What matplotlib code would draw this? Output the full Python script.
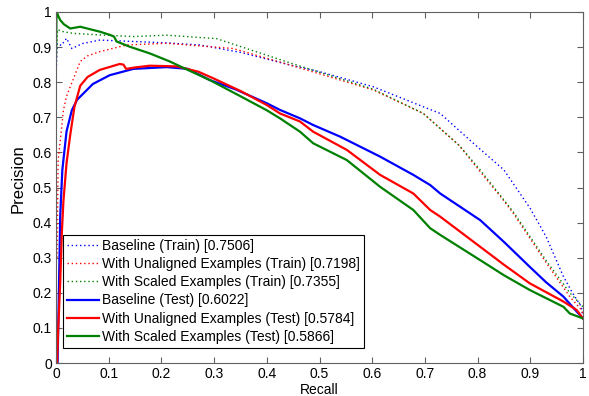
import matplotlib
matplotlib.use('Agg')
import matplotlib.pyplot as plt

# Precision-recall curves
base_train_r = [0.0, 0.002, 0.01, 0.02, 0.03, 0.05, 0.083, 0.147, 0.21, 0.273, 0.35, 0.444, 0.5,
                0.602, 0.697, 0.729, 0.792, 0.85, 0.9, 0.93, 0.963, 0.98, 0.997, 1.0]
base_train_p = [0.80, 0.91, 0.905, 0.925, 0.896, 0.91, 0.92, 0.916, 0.912, 0.906, 0.885, 0.849, 0.83,
                0.787, 0.730, 0.711, 0.626, 0.55, 0.44, 0.36, 0.246, 0.20, 0.16, 0.13]

unal_train_r = [0.002, 0.004, 0.01, 0.014, 0.02, 0.027, 0.046, 0.06, 0.083, 0.134, 0.21, 0.336, 0.444,
                0.602, 0.697, 0.765, 0.805, 0.849, 0.868, 0.931, 0.975, 0.997, 1.0]
unal_train_p = [0.30, 0.578, 0.66, 0.72, 0.76, 0.787, 0.859, 0.875, 0.887, 0.906, 0.911, 0.896, 0.849,
                0.778, 0.711, 0.62, 0.545, 0.464, 0.426, 0.284, 0.189, 0.151, 0.14]

scal_train_r = [0.0, 0.003, 0.01, 0.033, 0.08, 0.147, 0.21, 0.305, 0.444, 0.602, 0.697, 0.765, 0.805,
                0.868, 0.931, 0.975, 1.0]
scal_train_p = [0.87, 0.95, 0.945, 0.939, 0.935, 0.93, 0.934, 0.924, 0.855, 0.78, 0.711, 0.62, 0.55,
                0.43, 0.29, 0.20, 0.16]

base_test_r = [0.003, 0.006, 0.008, 0.012, 0.02, 0.03, 0.04, 0.052, 0.07, 0.102, 0.147, 0.21, 0.25,
               0.292, 0.34, 0.40, 0.425, 0.463, 0.488, 0.539, 0.615, 0.678, 0.71, 0.729, 0.805, 0.85,
               0.899, 0.93, 0.963, 0.98, 1.0]
base_test_p = [0.0, 0.25, 0.42, 0.55, 0.66, 0.72, 0.75, 0.768, 0.795, 0.82, 0.838, 0.843, 0.838,
               0.806, 0.78, 0.74, 0.721, 0.697, 0.678, 0.645, 0.588, 0.536, 0.507, 0.483, 0.407, 0.345,
               0.274, 0.23, 0.189, 0.16, 0.127]

unal_test_r = [0.002, 0.004, 0.008, 0.011, 0.014, 0.02, 0.027, 0.035, 0.046, 0.06, 0.083, 0.121, 0.128,
               0.133, 0.15, 0.178, 0.229, 0.27, 0.3, 0.35, 0.40, 0.425, 0.463, 0.488, 0.552, 0.615,
               0.678, 0.71, 0.729, 0.805, 0.85, 0.899, 0.963, 0.988, 1.0]
unal_test_p = [0.0, 0.09, 0.23, 0.37, 0.46, 0.57, 0.65, 0.73, 0.79, 0.815, 0.835, 0.852, 0.85,
               0.838, 0.842, 0.847, 0.845, 0.83, 0.81, 0.775, 0.735, 0.711, 0.688, 0.659, 0.607, 0.536,
               0.483, 0.436, 0.417, 0.331, 0.28, 0.227, 0.175, 0.151, 0.127]

scal_test_r = [0.0, 0.001, 0.004, 0.008, 0.015, 0.027, 0.046, 0.083, 0.102, 0.11, 0.115, 0.14, 0.178,
               0.216, 0.25, 0.292, 0.35, 0.40, 0.425, 0.463, 0.488, 0.552, 0.615, 0.678, 0.71, 0.729,
               0.805, 0.85, 0.899, 0.963, 0.975, 1.0]
scal_test_p = [0.87, 1.0, 0.99, 0.977, 0.965, 0.953, 0.958, 0.944, 0.935, 0.93, 0.916, 0.901, 0.882,
               0.859, 0.835, 0.806, 0.76, 0.72, 0.697, 0.659, 0.626, 0.578, 0.502, 0.436, 0.384, 0.365,
               0.293, 0.25, 0.208, 0.16, 0.141, 0.127]

labels = ['Baseline (Train) [0.7506]',
          'With Unaligned Examples (Train) [0.7198]',
          'With Scaled Examples (Train) [0.7355]',
          'Baseline (Test) [0.6022]',
          'With Unaligned Examples (Test) [0.5784]',
          'With Scaled Examples (Test) [0.5866]']

ticks = [0, 0.1, 0.2, 0.3, 0.4, 0.5, 0.6, 0.7, 0.8, 0.9, 1]
tick_labels = ['0', '0.1', '0.2', '0.3', '0.4', '0.5', '0.6', '0.7', '0.8', '0.9', '1']

plt.rcParams['font.family'] = ['Liberation Sans', 'DejaVu Sans']

fig = plt.figure(figsize=(5.89, 3.96), dpi=100)
ax = fig.add_axes([0.0951, 0.0833, 0.8947, 0.8864])

dot = (0, (1, 2))
ax.plot(base_train_r, base_train_p, color='#0000ff', lw=1, ls=dot, label=labels[0])
ax.plot(unal_train_r, unal_train_p, color='#ff0000', lw=1, ls=dot, label=labels[1])
ax.plot(scal_train_r, scal_train_p, color='#008000', lw=1, ls=dot, label=labels[2])
ax.plot(base_test_r, base_test_p, color='#0000ff', lw=1.6, label=labels[3])
ax.plot(unal_test_r, unal_test_p, color='#ff0000', lw=1.6, label=labels[4])
ax.plot(scal_test_r, scal_test_p, color='#008000', lw=1.6, label=labels[5])

ax.set_xlim(0, 1)
ax.set_ylim(0, 1)
ax.set_xticks(ticks)
ax.set_xticklabels(tick_labels)
ax.set_yticks(ticks)
ax.set_yticklabels(tick_labels)
ax.tick_params(direction='in', length=4, width=0.8, color='#606060', labelsize=10,
               top=True, right=True, pad=3)
for s in ax.spines.values():
    s.set_color('#606060')
    s.set_linewidth(0.8)

ax.set_xlabel('Recall', fontsize=10, labelpad=1)
ax.set_ylabel('Precision', fontsize=12)
ax.yaxis.set_label_coords(-0.057, 0.526)

leg = ax.legend(loc='lower left', bbox_to_anchor=(0.0133, 0.043), fontsize=10,
                fancybox=False, framealpha=1, edgecolor='black', borderpad=0.3,
                labelspacing=0.3, handlelength=2.3, handletextpad=0.2, borderaxespad=0)
leg.get_frame().set_linewidth(0.8)

fig.savefig('out.png', dpi=100)
